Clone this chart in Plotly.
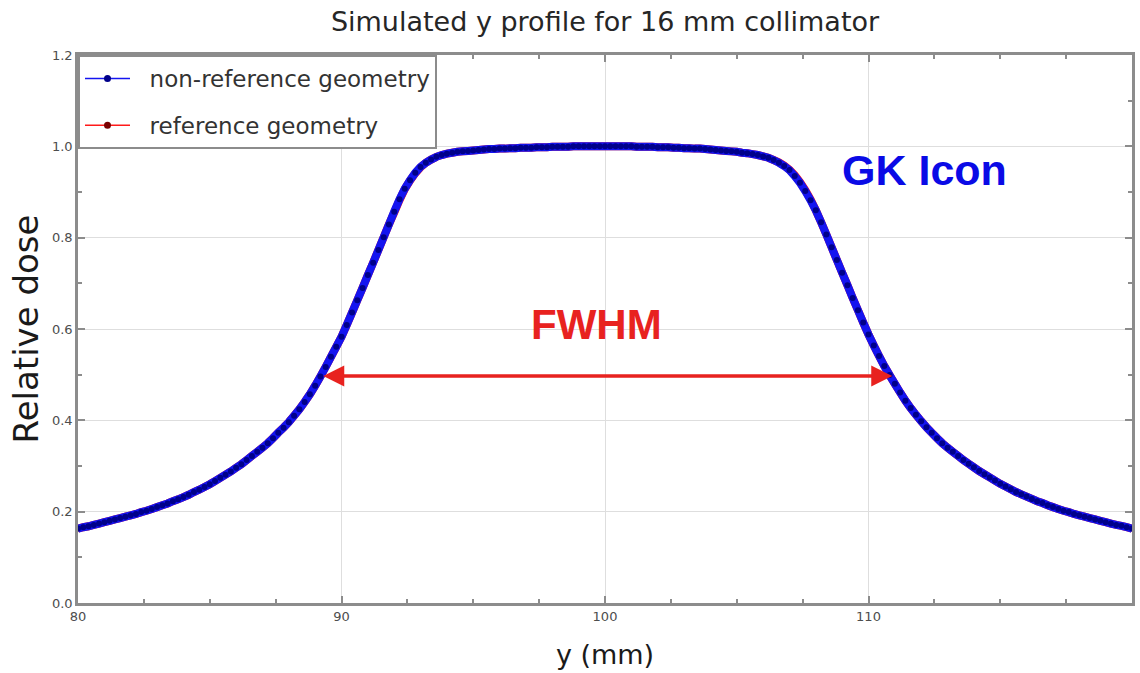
import numpy as np
import plotly.graph_objects as go

# Lateral position grid (mm), sampled every 0.2 mm
y_mm = np.round(np.linspace(80.0, 120.0, 201), 1)

# Relative dose, non-reference geometry
nonref_dose = [
    0.163, 0.166, 0.168, 0.171, 0.174, 0.177, 0.180, 0.183, 0.186, 0.189,
    0.192, 0.195, 0.199, 0.202, 0.206, 0.210, 0.214, 0.218, 0.223, 0.227,
    0.232, 0.237, 0.243, 0.248, 0.254, 0.260, 0.267, 0.274, 0.281, 0.288,
    0.296, 0.304, 0.313, 0.322, 0.331, 0.340, 0.350, 0.361, 0.373, 0.384,
    0.396, 0.410, 0.424, 0.440, 0.457, 0.476, 0.496, 0.517, 0.539, 0.561,
    0.583, 0.609, 0.636, 0.663, 0.690, 0.718, 0.745, 0.773, 0.801, 0.829,
    0.857, 0.884, 0.907, 0.926, 0.942, 0.955, 0.964, 0.971, 0.977, 0.981,
    0.984, 0.986, 0.988, 0.989, 0.990, 0.991, 0.992, 0.993, 0.994, 0.994,
    0.995, 0.995, 0.996, 0.996, 0.997, 0.997, 0.997, 0.998, 0.998, 0.998,
    0.999, 0.999, 0.999, 0.999, 1.000, 1.000, 1.000, 1.000, 1.000, 1.000,
    1.000, 1.000, 1.000, 1.000, 1.000, 1.000, 0.999, 0.999, 0.999, 0.999,
    0.998, 0.998, 0.998, 0.997, 0.997, 0.996, 0.996, 0.995, 0.995, 0.994,
    0.993, 0.992, 0.991, 0.990, 0.989, 0.988, 0.986, 0.985, 0.983, 0.981,
    0.978, 0.975, 0.970, 0.964, 0.957, 0.948, 0.935, 0.920, 0.902, 0.882,
    0.860, 0.834, 0.807, 0.779, 0.751, 0.723, 0.696, 0.668, 0.641, 0.614,
    0.588, 0.564, 0.541, 0.519, 0.499, 0.480, 0.461, 0.443, 0.427, 0.412,
    0.398, 0.385, 0.373, 0.361, 0.350, 0.340, 0.331, 0.322, 0.313, 0.305,
    0.297, 0.289, 0.282, 0.275, 0.268, 0.261, 0.255, 0.249, 0.243, 0.238,
    0.233, 0.228, 0.223, 0.219, 0.214, 0.210, 0.206, 0.202, 0.199, 0.195,
    0.192, 0.189, 0.186, 0.183, 0.180, 0.177, 0.174, 0.171, 0.169, 0.166,
    0.163,
]

# Relative dose, reference geometry
ref_dose = [
    0.163, 0.166, 0.168, 0.171, 0.174, 0.177, 0.180, 0.183, 0.186, 0.189,
    0.192, 0.195, 0.199, 0.202, 0.206, 0.210, 0.214, 0.218, 0.223, 0.227,
    0.232, 0.237, 0.243, 0.248, 0.254, 0.260, 0.267, 0.274, 0.281, 0.288,
    0.296, 0.304, 0.313, 0.322, 0.331, 0.340, 0.350, 0.361, 0.373, 0.384,
    0.396, 0.410, 0.424, 0.440, 0.457, 0.476, 0.496, 0.517, 0.539, 0.561,
    0.583, 0.609, 0.636, 0.663, 0.690, 0.718, 0.745, 0.773, 0.801, 0.829,
    0.855, 0.882, 0.906, 0.925, 0.941, 0.954, 0.964, 0.971, 0.977, 0.981,
    0.984, 0.986, 0.988, 0.989, 0.990, 0.991, 0.992, 0.993, 0.994, 0.994,
    0.995, 0.995, 0.996, 0.996, 0.997, 0.997, 0.997, 0.998, 0.998, 0.998,
    0.999, 0.999, 0.999, 0.999, 1.000, 1.000, 1.000, 1.000, 1.000, 1.000,
    1.000, 1.000, 1.000, 1.000, 1.000, 1.000, 0.999, 0.999, 0.999, 0.999,
    0.998, 0.998, 0.998, 0.997, 0.997, 0.996, 0.996, 0.995, 0.995, 0.994,
    0.993, 0.992, 0.991, 0.990, 0.989, 0.988, 0.986, 0.985, 0.983, 0.981,
    0.978, 0.975, 0.970, 0.965, 0.958, 0.949, 0.937, 0.922, 0.904, 0.884,
    0.860, 0.834, 0.807, 0.779, 0.751, 0.723, 0.696, 0.668, 0.641, 0.614,
    0.588, 0.564, 0.541, 0.519, 0.499, 0.480, 0.461, 0.443, 0.427, 0.412,
    0.398, 0.385, 0.373, 0.361, 0.350, 0.340, 0.331, 0.322, 0.313, 0.305,
    0.297, 0.289, 0.282, 0.275, 0.268, 0.261, 0.255, 0.249, 0.243, 0.238,
    0.233, 0.228, 0.223, 0.219, 0.214, 0.210, 0.206, 0.202, 0.199, 0.195,
    0.192, 0.189, 0.186, 0.183, 0.180, 0.177, 0.174, 0.171, 0.169, 0.166,
    0.163,
]

# Full width at half maximum markers (mm, relative dose)
fwhm_left = 89.25
fwhm_right = 110.9
fwhm_level = 0.497

series_names = ["non-reference geometry", "reference geometry"]
line_colors = ["#1414f0", "#ff1a1a"]
marker_colors = ["#00008a", "#7a0000"]

FONT = "DejaVu Sans"
GRID = "#dedede"
FRAME = "#8c8c8c"
PAD = "\u00a0\u00a0"

fig = go.Figure()

# Profiles: reference drawn first so the non-reference curve sits on top
for dose, lc, mc in [(ref_dose, line_colors[1], marker_colors[1]),
                     (nonref_dose, line_colors[0], marker_colors[0])]:
    fig.add_trace(go.Scatter(
        x=y_mm, y=dose, mode="lines+markers", showlegend=False,
        line=dict(color=lc, width=8, simplify=False),
        marker=dict(color=mc, size=6),
    ))

# Legend entries with thin line samples
for name, lc, mc in zip(series_names, line_colors, marker_colors):
    fig.add_trace(go.Scatter(
        x=[None], y=[None], name=PAD + name, mode="lines+markers",
        legendgroup=name,
        line=dict(color=lc, width=1.5),
        marker=dict(color=mc, size=7),
    ))

# Double-headed FWHM arrow
fig.add_annotation(
    x=fwhm_right, y=fwhm_level, ax=fwhm_left, ay=fwhm_level,
    xref="x", yref="y", axref="x", ayref="y",
    text="", showarrow=True, arrowside="end+start",
    arrowhead=2, startarrowhead=2, arrowsize=1.2, startarrowsize=1.2,
    arrowwidth=3.5, arrowcolor="#e8221f", standoff=0, startstandoff=0,
)
fig.add_annotation(
    x=99.66, y=0.609, xref="x", yref="y", text="<b>FWHM</b>",
    showarrow=False, font=dict(family="Liberation Sans, Arial", size=42, color="#e8221f"),
)
fig.add_annotation(
    x=112.14, y=0.948, xref="x", yref="y", text="<b>GK Icon</b>",
    showarrow=False, font=dict(family="Liberation Sans, Arial", size=43, color="#0a0ae6"),
)

axis_common = dict(
    showline=True, linecolor=FRAME, linewidth=2.5, mirror="allticks",
    ticks="inside", ticklen=7, tickwidth=1.5, tickcolor=FRAME,
    showgrid=True, gridcolor=GRID, gridwidth=1, zeroline=False,
    tickfont=dict(family=FONT, size=13, color="#4d4d4d"),
)

fig.update_xaxes(
    range=[80, 120], tick0=80, dtick=10,
    minor=dict(dtick=2.5, ticks="inside", ticklen=4, tickcolor=FRAME, showgrid=False),
    title=dict(text="y (mm)", font=dict(family=FONT, size=27, color="#1a1a1a"), standoff=22),
    **axis_common,
)
fig.update_yaxes(
    range=[0, 1.2], tick0=0, dtick=0.2, tickformat=".1f",
    minor=dict(dtick=0.1, ticks="inside", ticklen=4, tickcolor=FRAME, showgrid=False),
    title=dict(text="Relative dose", font=dict(family=FONT, size=34, color="#1a1a1a"), standoff=4),
    **axis_common,
)

fig.update_layout(
    width=1140, height=673,
    margin=dict(l=78, r=8, t=55, b=70, autoexpand=False),
    paper_bgcolor="white", plot_bgcolor="white",
    title=dict(
        text="Simulated y profile for 16 mm collimator",
        x=0.5307, xanchor="center", y=1 - 22 / 673, yanchor="middle", yref="container",
        font=dict(family=FONT, size=27, color="#262626"),
    ),
    legend=dict(
        x=0, y=1, xanchor="left", yanchor="top",
        bgcolor="white", bordercolor=FRAME, borderwidth=2,
        font=dict(family=FONT, size=23, color="#333333"),
        itemwidth=45, tracegroupgap=14,
    ),
    showlegend=True,
)

fig.write_html("out.html")
